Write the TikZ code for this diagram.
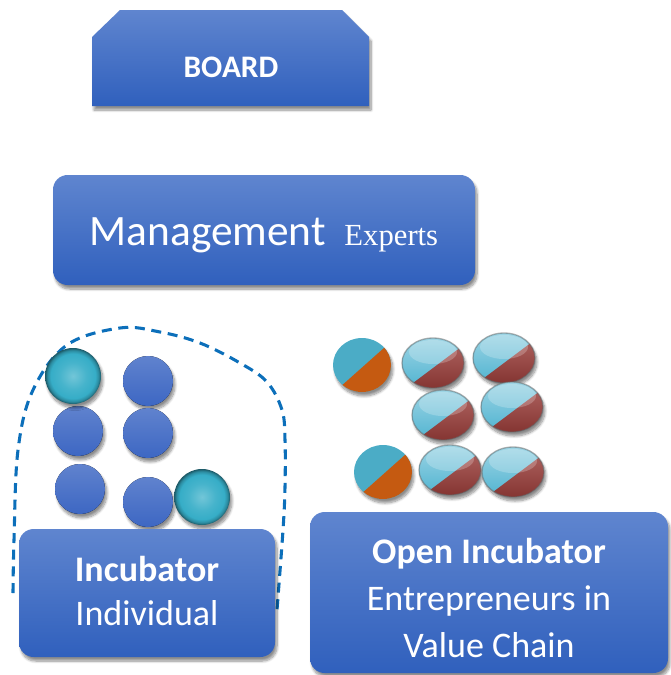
\documentclass[tikz,border=0pt]{standalone}
\usepackage{fontspec}
\setmainfont{Carlito}
\newfontfamily\timesfont{Liberation Serif}
\usetikzlibrary{shadows.blur}

\definecolor{boxtop}{HTML}{5F85CF}
\definecolor{boxbot}{HTML}{3060BD}
\definecolor{dashblue}{HTML}{0C6FBA}
\definecolor{dotblue}{HTML}{3D67C3}
\definecolor{tealball}{HTML}{36ADC7}
\definecolor{capblue}{HTML}{4FB3D0}
\definecolor{flatblue}{HTML}{4BACC6}
\definecolor{caporange}{HTML}{C55A11}
\definecolor{capred}{HTML}{983A36}

\pgfdeclareradialshading{tealglass}{\pgfpoint{0bp}{0bp}}{%
    color(0bp)=(tealball!70!white); color(12bp)=(tealball!92!white);
    color(20bp)=(tealball); color(23bp)=(tealball!80!black);
    color(25bp)=(tealball!50!black); color(50bp)=(tealball!50!black)}

\tikzset{
    softshadow/.style={blur shadow={shadow xshift=1.5pt, shadow yshift=-3pt,
            shadow blur steps=8, shadow opacity=45}},
    panel/.style={top color=boxtop, bottom color=boxbot, softshadow},
    roundpanel/.style={panel, rounded corners=11pt, inner sep=0pt},
    boxtext/.style={text=white, align=center, inner sep=0pt},
    fence/.style={dashblue, line width=2.3pt, dash pattern=on 7.5pt off 5pt},
    dot/.style={top color=dotblue!82!white, bottom color=dotblue, softshadow},
    tealdot/.style={shading=tealglass, softshadow},
}

\begin{document}
\begin{tikzpicture}[x=0.75pt, y=-0.75pt]
    \useasboundingbox (0,0) rectangle (671,675);

    % board
    \path[panel] (92,106) -- (92,37) -- (120,10) -- (342,10) -- (369,37) -- (369,106) -- cycle;
    \node[boxtext, font=\fontsize{23.5}{28}\selectfont\bfseries] (board) at (231,67) {BOARD};

    % management
    \node[roundpanel, minimum width=316.5pt, minimum height=82.5pt] (mgmt) at (264,230) {};
    \node[boxtext, anchor=base] (mgmtlabel) at (264,245)
        {\fontsize{32.5}{36}\selectfont Management\hspace{14pt}{\timesfont\fontsize{23}{26}\selectfont Experts}};

    % individual incubator
    \draw[fence] plot[smooth, tension=0.6] coordinates {(13,593) (14,540) (18,450) (33,390)
        (67,345) (120,328) (160,332) (200,343) (240,363) (267,382) (282,410) (285,440)
        (285,487) (283,530) (277,610)};
    \foreach \x/\y in {148/381, 78/431, 148/433, 80/489, 148/502}
        \fill[dot] (\x,\y) circle (25);
    \foreach \x/\y in {73/376, 202/497}
        \shade[tealdot] (\x,\y) circle (28);

    \node[roundpanel, minimum width=192pt, minimum height=96pt] (incub) at (147,593) {};
    \node[boxtext, anchor=base, font=\fontsize{27}{33}\selectfont] (incublabel) at (147,625)
        {{\bfseries Incubator}\\Individual};

    % open incubator
    \foreach \x/\y in {362/365, 383/472} {
        \begin{scope}[shift={(\x,\y)}]
            \path[softshadow] (0,0) ellipse (29 and 27);
            \begin{scope}
                \clip (0,0) ellipse (29 and 27);
                \fill[flatblue] (-32,-30) rectangle (32,30);
                \fill[caporange] (-32,31) -- (32,-26) -- (32,30) -- (-32,30) -- cycle;
            \end{scope}
        \end{scope}
    }
    \foreach \x/\y in {433/363, 504/358, 443/415, 512/407, 450/470, 513/472} {
        \begin{scope}[shift={(\x,\y)}]
            \path[softshadow] (0,0) ellipse (31 and 25);
            \begin{scope}
                \clip (0,0) ellipse (31 and 25);
                \shade[top color=capblue!55!white, bottom color=capblue] (-32,-26) rectangle (32,26);
                \shade[top color=capred!80!white, bottom color=capred!85!black]
                    (-32,29) -- (32,-19) -- (32,26) -- (-32,26) -- cycle;
                \fill[white, opacity=.22] (0,-11) ellipse (24 and 12);
            \end{scope}
            \draw[black!60, opacity=.5, line width=1pt] (0,0) ellipse (31 and 25);
        \end{scope}
    }

    \node[roundpanel, minimum width=268.5pt, minimum height=120.75pt] (open) at (489,592.5) {};
    \node[boxtext, anchor=base, font=\fontsize{27}{35}\selectfont] (openlabel) at (489,657)
        {{\bfseries Open Incubator}\\Entrepreneurs in\\Value Chain};
\end{tikzpicture}
\end{document}
